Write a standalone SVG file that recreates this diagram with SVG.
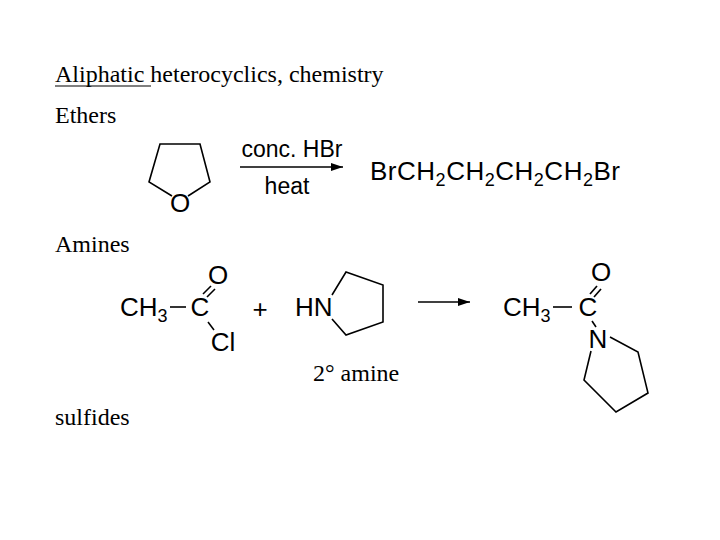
<svg xmlns="http://www.w3.org/2000/svg" width="720" height="540" viewBox="0 0 720 540">
<style>
.s{font-family:"Liberation Serif",serif;font-size:24px;fill:#000}
.a{font-family:"Liberation Sans",Arial,sans-serif;font-size:26px;fill:#000}
.b{font-family:"Liberation Sans",Arial,sans-serif;font-size:23px;fill:#000}
.l{stroke:#000;stroke-width:1.6;fill:none}
</style>
<defs><marker id="ah" markerWidth="12" markerHeight="8" refX="12" refY="4" orient="auto" markerUnits="userSpaceOnUse"><path d="M0,0 L12,4 L0,8 Z" fill="#000"/></marker></defs>
<rect width="720" height="540" fill="#fff"/>
<g id="headings">
<text class="s" x="55" y="82">Aliphatic heterocyclics, chemistry</text>
<line x1="55" y1="86" x2="151" y2="86" stroke="#000" stroke-width="1.2"/>
<text class="s" x="55" y="123">Ethers</text>
<text class="s" x="55" y="252">Amines</text>
<text class="s" x="55" y="425">sulfides</text>
</g>
<g id="thf">
<polyline class="l" points="172,196 149,182 160,144 200,144 210,182 188,196"/>
<text class="a" x="180" y="212" text-anchor="middle">O</text>
</g>
<g id="connectors">
<line class="l" x1="240" y1="167" x2="343" y2="167" marker-end="url(#ah)"/>
<line class="l" x1="418" y1="302" x2="470" y2="302" marker-end="url(#ah)"/>
</g>
<g id="cond">
<text class="b" x="292" y="157" text-anchor="middle">conc. HBr</text>
<text class="b" x="287" y="194" text-anchor="middle">heat</text>
</g>
<g id="dibromide">
<text class="a" x="370" y="180" textLength="250">BrCH<tspan font-size="18" dy="6">2</tspan><tspan dy="-6">CH</tspan><tspan font-size="18" dy="6">2</tspan><tspan dy="-6">CH</tspan><tspan font-size="18" dy="6">2</tspan><tspan dy="-6">CH</tspan><tspan font-size="18" dy="6">2</tspan><tspan dy="-6">Br</tspan></text>
</g>
<g id="acetylchloride">
<text class="a" x="120" y="316">CH<tspan font-size="18" dy="6">3</tspan></text>
<line class="l" x1="170" y1="307" x2="186" y2="307"/>
<text class="a" x="200" y="316" text-anchor="middle">C</text>
<line class="l" x1="203" y1="294" x2="211" y2="286"/>
<line class="l" x1="207" y1="297" x2="215" y2="289"/>
<line class="l" x1="208" y1="322" x2="214" y2="330"/>
<text class="a" x="218" y="284" text-anchor="middle">O</text>
<text class="a" x="223" y="351" text-anchor="middle">Cl</text>
</g>
<g id="plus"><text class="a" x="260" y="318" text-anchor="middle">+</text></g>
<g id="pyrrolidine">
<text class="a" x="295" y="316">HN</text>
<polyline class="l" points="332,295 346,272 383,285 383,322 346,335 332,319"/>
<text class="s" x="313" y="381">2° amine</text>
</g>
<g id="amide">
<text class="a" x="503" y="316">CH<tspan font-size="18" dy="6">3</tspan></text>
<line class="l" x1="553" y1="307" x2="572" y2="307"/>
<text class="a" x="588" y="316" text-anchor="middle">C</text>
<line class="l" x1="590" y1="294" x2="597" y2="286"/>
<line class="l" x1="594" y1="297" x2="601" y2="289"/>
<text class="a" x="601" y="281" text-anchor="middle">O</text>
<line class="l" x1="592" y1="321" x2="596" y2="327"/>
<text class="a" x="598" y="348" text-anchor="middle">N</text>
<polyline class="l" points="610,337 638,352 648,393 616,412 584,380 591,351"/>
</g>
</svg>
